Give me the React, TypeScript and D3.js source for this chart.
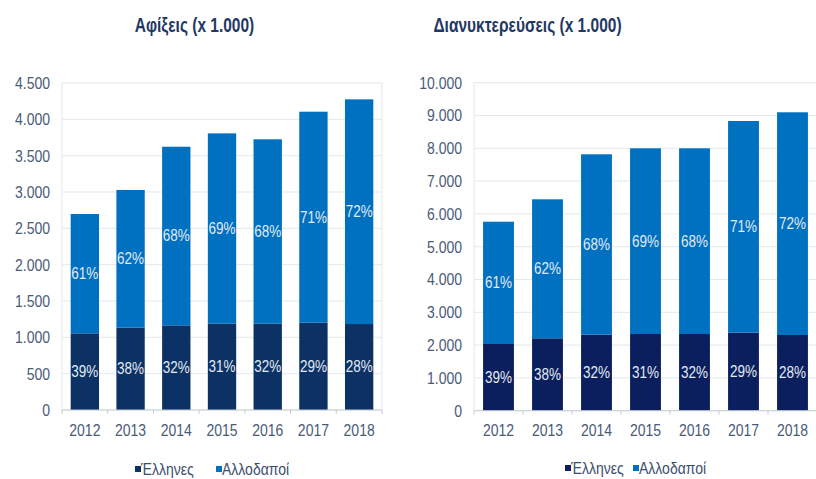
import React from "react";
import * as d3 from "d3";

const years = ["2012", "2013", "2014", "2015", "2016", "2017", "2018"];

const arrivalsGreek = [1055, 1133, 1165, 1188, 1188, 1202, 1183];
const arrivalsForeign = [1642, 1895, 2458, 2619, 2537, 2903, 3092];
const arrivalsPctGreek = ["39%", "38%", "32%", "31%", "32%", "29%", "28%"];
const arrivalsPctForeign = ["61%", "62%", "68%", "69%", "68%", "71%", "72%"];

const nightsGreek = [2034, 2207, 2317, 2338, 2338, 2378, 2308];
const nightsForeign = [3728, 4238, 5500, 5662, 5662, 6454, 6790];
const nightsPctGreek = ["39%", "38%", "32%", "31%", "32%", "29%", "28%"];
const nightsPctForeign = ["61%", "62%", "68%", "69%", "68%", "71%", "72%"];

const arrivalsTicks = [0, 500, 1000, 1500, 2000, 2500, 3000, 3500, 4000, 4500];
const nightsTicks = [0, 1000, 2000, 3000, 4000, 5000, 6000, 7000, 8000, 9000, 10000];

const legendLabels = ["Έλληνες", "Αλλοδαποί"];

const FONT = "'Liberation Sans', Arial, sans-serif";
const TEXT_COLOR = "#4a5b78";
const TITLE_COLOR = "#1f3864";
const LIGHT = "#0070c0";
const GRID = "#e2e9ec";
const fmt = (v: number) => d3.format(",")(v).replace(/,/g, ".");

function SText({ x, y, children, size = 14, anchor = "middle", fill = TEXT_COLOR, weight = "normal", sy = 1.2 }: any) {
  return (
    <text
      transform={`translate(${x},${y}) scale(1,${sy})`}
      textAnchor={anchor}
      dominantBaseline="central"
      fontSize={size}
      fontFamily={FONT}
      fontWeight={weight}
      fill={fill}
    >
      {children}
    </text>
  );
}

function Chart({ x0, x1, yTop, y0, max, ticks, greek, foreign, pctG, pctF, tickRight, dark, padding }: any) {
  const x = d3.scaleBand<string>().domain(years).range([x0, x1]).paddingInner(padding).paddingOuter(padding / 2);
  const y = d3.scaleLinear().domain([0, max]).range([y0, yTop]);
  const step = x.step();
  return (
    <g>
      {ticks.map((t: number) => (
        <line key={"g" + t} x1={x0} x2={x1} y1={y(t)} y2={y(t)} stroke={GRID} strokeWidth={1} />
      ))}
      <line x1={x0} x2={x0} y1={yTop} y2={y0} stroke={GRID} />
      <line x1={x1} x2={x1} y1={yTop} y2={y0} stroke={GRID} />
      {ticks.map((t: number) => (
        <SText key={"t" + t} x={tickRight} y={y(t)} anchor="end" size={14}>
          {fmt(t)}
        </SText>
      ))}
      {years.map((yr, i) => {
        const bx = x(yr)!;
        const bw = x.bandwidth();
        const g = greek[i];
        const f = foreign[i];
        const cx = bx + bw / 2;
        return (
          <g key={yr}>
            <rect x={bx} width={bw} y={y(g)} height={y(0) - y(g)} fill={dark} />
            <rect x={bx} width={bw} y={y(g + f)} height={y(g) - y(g + f)} fill={LIGHT} />
            <SText x={cx} y={(y(0) + y(g)) / 2} size={13.5} fill="#e2eaf3">
              {pctG[i]}
            </SText>
            <SText x={cx} y={(y(g) + y(g + f)) / 2} size={13.5} fill="#e2eaf3">
              {pctF[i]}
            </SText>
            <SText x={cx} y={430} size={14}>
              {yr}
            </SText>
          </g>
        );
      })}
      <line x1={x0} x2={x1} y1={y0} y2={y0} stroke="#c8cdd2" strokeWidth={1} />
      {d3.range(years.length + 1).map((i) => (
        <line key={"k" + i} x1={x0 + i * step} x2={x0 + i * step} y1={y0} y2={y0 + 4} stroke="#c8cdd2" />
      ))}
    </g>
  );
}

function Legend({ sq1, t1, sq2, t2, y, dark }: any) {
  return (
    <g>
      <rect x={sq1} y={y - 3} width={6} height={6} fill={dark} />
      <SText x={t1} y={y} anchor="start" size={14} fill="#3c4d6b">
        {legendLabels[0]}
      </SText>
      <rect x={sq2} y={y - 3} width={6} height={6} fill={LIGHT} />
      <SText x={t2} y={y} anchor="start" size={14} fill="#3c4d6b">
        {legendLabels[1]}
      </SText>
    </g>
  );
}

export default function App() {
  return (
    <svg width={816} height={479} style={{ position: "absolute", left: 0, top: 0, background: "#fff" }}>
      <rect width={816} height={479} fill="#fff" />
      <SText x={194.5} y={25} size={15.5} weight="bold" fill={TITLE_COLOR} sy={1.3}>
        Αφίξεις (x 1.000)
      </SText>
      <SText x={527.5} y={25} size={15.5} weight="bold" fill={TITLE_COLOR} sy={1.3}>
        Διανυκτερεύσεις (x 1.000)
      </SText>
      <Chart
        x0={62}
        x1={382}
        yTop={83}
        y0={410}
        max={4500}
        ticks={arrivalsTicks}
        greek={arrivalsGreek}
        foreign={arrivalsForeign}
        pctG={arrivalsPctGreek}
        pctF={arrivalsPctForeign}
        tickRight={50}
        dark="#0c3164"
        padding={0.38}
      />
      <Chart
        x0={474}
        x1={817}
        yTop={82.7}
        y0={410.7}
        max={10000}
        ticks={nightsTicks}
        greek={nightsGreek}
        foreign={nightsForeign}
        pctG={nightsPctGreek}
        pctF={nightsPctForeign}
        tickRight={462}
        dark="#0b1f5e"
        padding={0.37}
      />
      <Legend sq1={135} t1={141} sq2={216} t2={222} y={469} dark="#0c3164" />
      <Legend sq1={565} t1={571} sq2={633} t2={639} y={468} dark="#0b1f5e" />
    </svg>
  );
}
